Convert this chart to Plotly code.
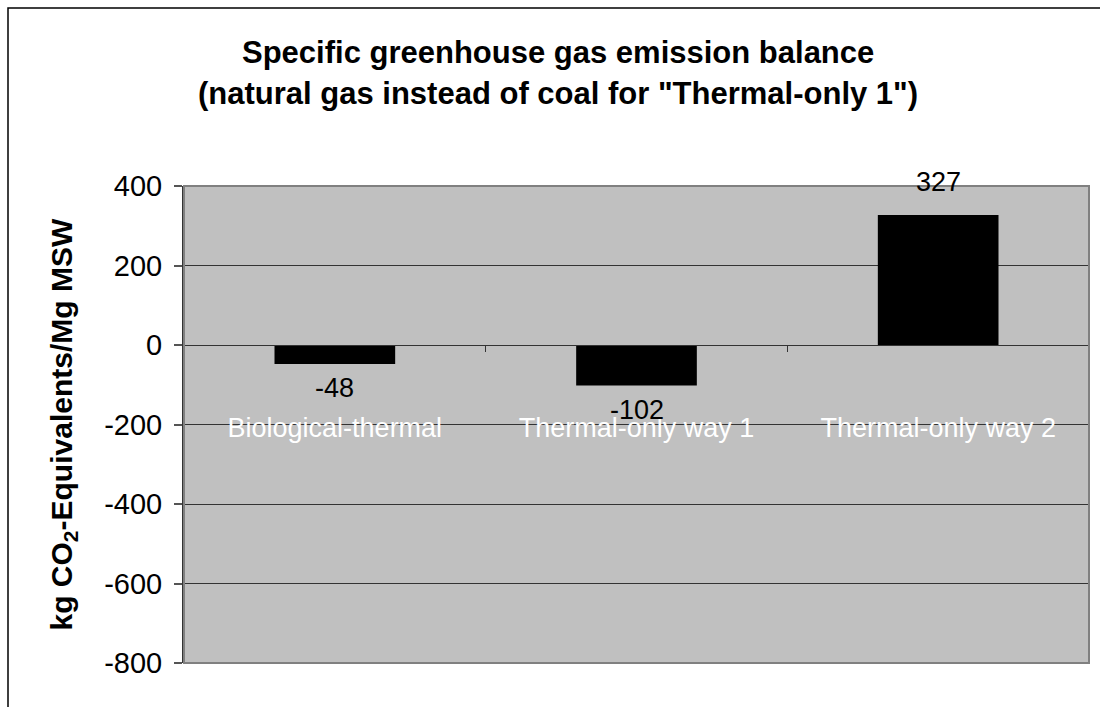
import plotly.graph_objects as go

# Specific GHG balance per tonne of municipal solid waste
categories = ["Biological-thermal", "Thermal-only way 1", "Thermal-only way 2"]
emissions = [-48, -102, 327]
y_ticks = [400, 200, 0, -200, -400, -600, -800]
y_tick_labels = ["400", "200", "0", "-200", "-400", "-600", "-800"]

W, H = 1100, 707
L, R, T, B = 184, 11, 186, 44
pw, ph = W - L - R, H - T - B
y_min, y_max = -800, 400
FONT = "Liberation Sans, Arial, sans-serif"


def px_x(px):
    return (px - L) / pw


def px_y(py):
    return (H - B - py) / ph


fig = go.Figure(
    go.Bar(
        x=categories,
        y=emissions,
        marker=dict(color="#000000", line=dict(width=0)),
        hoverinfo="x+y",
    )
)

# value labels placed just past the bar ends
for cat, val in zip(categories, emissions):
    fig.add_annotation(
        x=cat, y=val, text=str(val), showarrow=False,
        xref="x", yref="y",
        yanchor="bottom" if val >= 0 else "top",
        yshift=16 if val >= 0 else -7,
        font=dict(family=FONT, size=27, color="#000000"),
    )

# y-axis title with subscript
fig.add_annotation(
    text="<b>kg CO<sub>2</sub>-Equivalents/Mg MSW</b>",
    xref="paper", yref="paper", x=px_x(63), y=0.5,
    xanchor="center", yanchor="middle", textangle=-90, showarrow=False,
    font=dict(family=FONT, size=30, color="#000000"),
)

# two-line chart title
fig.add_annotation(
    text="<b>Specific greenhouse gas emission balance</b>",
    xref="paper", yref="paper", x=px_x(558), y=px_y(53),
    xanchor="center", yanchor="middle", showarrow=False,
    font=dict(family=FONT, size=31, color="#000000"),
)
fig.add_annotation(
    text="<b>(natural gas instead of coal for \"Thermal-only 1\")</b>",
    xref="paper", yref="paper", x=px_x(558), y=px_y(94),
    xanchor="center", yanchor="middle", showarrow=False,
    font=dict(family=FONT, size=31, color="#000000"),
)

shapes = [
    # plot-area frame
    dict(type="rect", xref="paper", yref="paper", x0=0, x1=1, y0=0, y1=1,
         line=dict(color="#808080", width=2), layer="above"),
    # chart-area frame
    dict(type="rect", xref="paper", yref="paper",
         x0=px_x(8), x1=px_x(1130), y0=px_y(740), y1=px_y(8),
         line=dict(color="#000000", width=1.5), layer="above"),
]

fig.update_layout(
    width=W, height=H,
    margin=dict(l=L, r=R, t=T, b=B, autoexpand=False),
    paper_bgcolor="#FFFFFF",
    plot_bgcolor="#C0C0C0",
    bargap=0.6,
    showlegend=False,
    shapes=shapes,
    font=dict(family=FONT, color="#000000"),
    xaxis=dict(
        type="category",
        anchor="free",
        position=(0 - y_min) / (y_max - y_min),
        showline=True, linecolor="#333333", linewidth=1,
        ticks="outside", tickson="boundaries", ticklen=6,
        tickcolor="#333333", tickwidth=1,
        showgrid=False, zeroline=False,
        tickfont=dict(family=FONT, size=27, color="#FFFFFF"),
        ticklabelstandoff=59,
        automargin=False,
    ),
    yaxis=dict(
        range=[y_min, y_max],
        tickvals=y_ticks, ticktext=y_tick_labels,
        showline=True, linecolor="#333333", linewidth=2,
        ticks="outside", ticklen=8, tickcolor="#555555", tickwidth=1.5,
        showgrid=True, gridcolor="#333333", gridwidth=1,
        zeroline=False,
        tickfont=dict(family=FONT, size=29, color="#000000"),
        ticklabelstandoff=6,
        automargin=False,
    ),
)

fig.write_html("out.html")
